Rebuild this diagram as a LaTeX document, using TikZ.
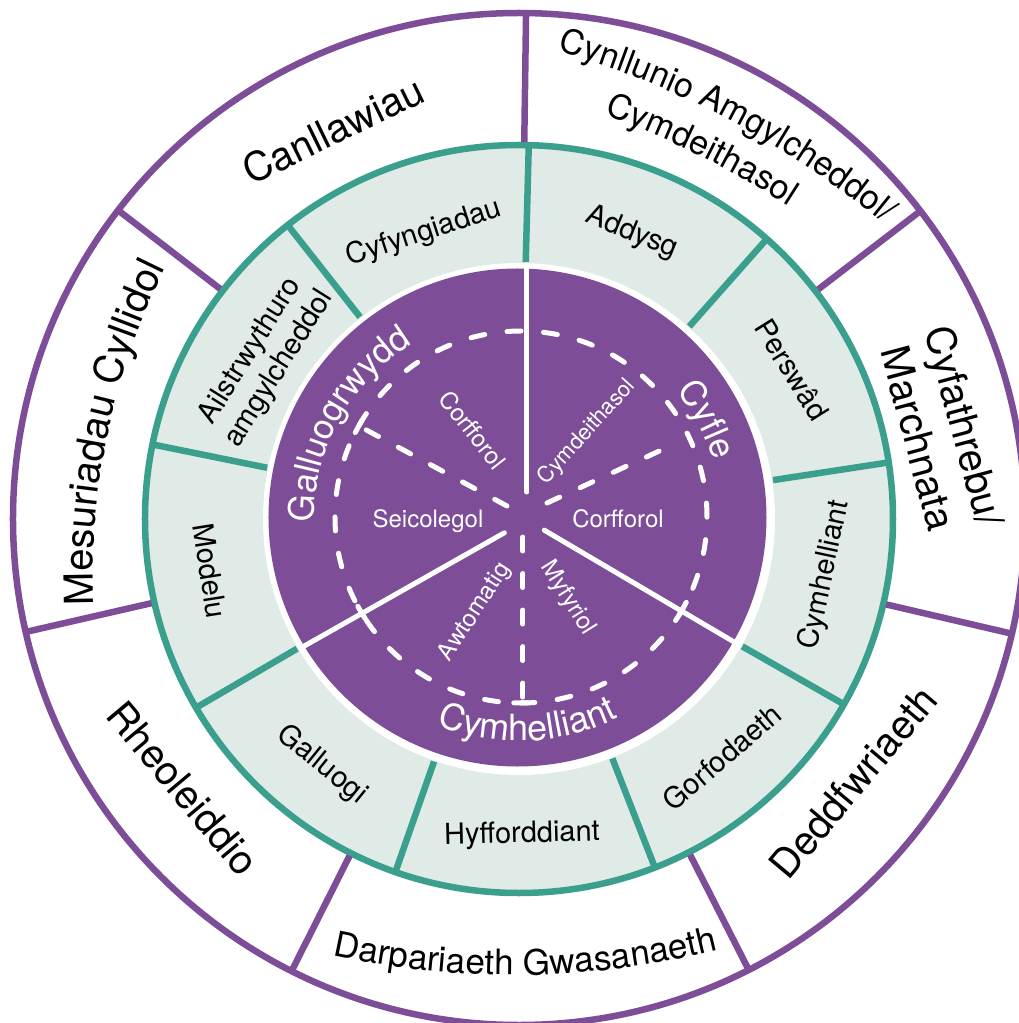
\documentclass[tikz,border=0pt]{standalone}
\usepackage{fontspec}
\setmainfont{TeX Gyre Heros}
\usetikzlibrary{decorations.text}
\definecolor{bcwpurple}{HTML}{7D4D98}
\definecolor{bcwteal}{HTML}{3AA08D}
\definecolor{bcwring}{HTML}{E0EAE6}
\tikzset{
  outerline/.style={bcwpurple, line width=6.5pt},
  tealline/.style={bcwteal, line width=6.5pt},
  whiteline/.style={white, line width=5pt, line cap=round},
  dashline/.style={white, line width=5pt, line cap=round, dash pattern=on 14pt off 22.52pt},
  tickline/.style={white, line width=5pt, line cap=round},
  outertext/.style={font=\fontsize{40}{48}\selectfont, align=center, inner sep=0pt, text=black},
  midtext/.style={font=\fontsize{29}{34}\selectfont, align=center, inner sep=0pt, text=black},
  innertext/.style={font=\fontsize{24}{28}\selectfont, text=white, inner sep=0pt},
}
\begin{document}
\begin{tikzpicture}[x=1pt,y=1pt]
\useasboundingbox (-519,-504) rectangle (500,519);
\clip (-519,-504) rectangle (500,519);
\fill[white] (-519,-504) rectangle (500,519);

% rings
\draw[outerline, fill=white] (0,0) circle[radius=506];
\fill[bcwring] (0,0) circle[radius=374];
\fill[white] (0,0) circle[radius=256];
\fill[bcwpurple] (-1.5,1.5) circle[radius=249];

% middle ring dividers
\foreach \a in {88.5,48.5,8.7,330.3,291.3,250.7,210.3,168.5,128.2}
  \draw[tealline] (\a:257) -- (\a:375);
\draw[tealline] (0,0) circle[radius=374];
% outer ring dividers
\foreach \a in {89.2,142.4,192.9,243.3,297,346.9,37.5}
  \draw[outerline] (\a:377) -- (\a:508);

% inner solid dividers
\draw[whiteline] ([shift={(8,-1)}]90:28) -- ([shift={(8,-1)}]90:255);
\draw[whiteline] ([shift={(8,-1)}]209.5:26) -- ([shift={(8,-1)}]209.5:260);
\draw[whiteline] ([shift={(8,-1)}]329.5:20) -- ([shift={(8,-1)}]329.5:247);

% inner dashed structure
\draw[dashline] (2,2) circle[radius=186];
\draw[dashline] (-12,13) -- (-160,93);
\draw[dashline] (4,-18) -- (4,-184);
\draw[dashline] (28,16) -- (149,72);
\foreach \a in {150.8,270,210.9,330.5}
  \draw[tickline] ([shift={(2,2)}]\a-2.2:186) arc[start angle=\a-2.2, end angle=\a+2.2, radius=186];

% inner curved titles
\path[decorate, decoration={text along path, text align=center, text color=white,
  text={|\fontsize{35}{35}\selectfont|Galluogrwydd}}]
  (188:205) arc[start angle=188, end angle=114, radius=205];
\path[decorate, decoration={text along path, text align=center, text color=white,
  text={|\fontsize{35}{35}\selectfont|Cyfle}}]
  (52:203) arc[start angle=52, end angle=4, radius=203];
\path[decorate, decoration={text along path, text align=center, text color=white,
  text={|\fontsize{36}{36}\selectfont|Cymhelliant}}]
  (240:222) arc[start angle=240, end angle=305, radius=222];

% inner labels
\node[innertext, rotate=-52] (corfA) at (-46,89) {Corfforol};
\node[innertext, rotate=48, font=\fontsize{22}{26}\selectfont] (cymdA) at (68,87) {Cymdeithasol};
\node[innertext, anchor=base] (seic) at (-91,-8) {Seicolegol};
\node[innertext, anchor=base] (corfB) at (99,-8) {Corfforol};
\node[innertext, rotate=57] (awto) at (-44,-93) {Awtomatig};
\node[innertext, rotate=-58] (myfy) at (49,-79) {Myfyriol};

% middle ring labels
\node[midtext, rotate=18] (cyfyng) at (-95,286) {Cyfyngiadau};
\node[midtext, rotate=-22] (addysg) at (113,286) {Addysg};
\node[midtext, rotate=-58] (persw) at (273,149) {Perswâd};
\node[midtext, rotate=78] (cymhM) at (306,-56) {Cymhelliant};
\node[midtext, rotate=40.5] (gorf) at (203,-238) {Gorfodaeth};
\node[midtext, rotate=1.5] (hyff) at (3,-316) {Hyfforddiant};
\node[midtext, rotate=-39] (galluogi) at (-197,-246) {Galluogi};
\node[midtext, rotate=-81] (modelu) at (-309,-52) {Modelu};
\node[midtext, rotate=58] (ailstr) at (-254,159) {Ailstrwythuro\\amgylcheddol};

% outer ring labels
\node[outertext, rotate=26] (canll) at (-186,389) {Canllawiau};
\node[outertext, rotate=-75] (cyfath) at (423,87) {Cyfathrebu/\\Marchnata};
\node[outertext, rotate=50] (deddf) at (334,-263) {Deddfwriaeth};
\node[outertext, rotate=-50] (rheol) at (-336,-269) {Rheoleiddio};

\path[decorate, decoration={text along path, text align=center,
  text={|\fontsize{40}{40}\selectfont|Mesuriadau Cyllidol}}]
  ([shift={(168:-280)}]188:700) arc[start angle=188, end angle=148, radius=700];
\path[decorate, decoration={text along path, text align=center,
  text={|\fontsize{34}{34}\selectfont|Cynllunio Amgylcheddol/}}]
  ([shift={(62.1:-449)}]80.1:900) arc[start angle=80.1, end angle=44.1, radius=900];
\path[decorate, decoration={text along path, text align=center,
  text={|\fontsize{34}{34}\selectfont|Cymdeithasol}}]
  ([shift={(63.6:-494)}]78.6:900) arc[start angle=78.6, end angle=48.6, radius=900];
\path[decorate, decoration={text along path, text align=center,
  text={|\fontsize{35}{35}\selectfont|Darpariaeth Gwasanaeth}}]
  ([shift={(270.8:-384)}]252.8:840) arc[start angle=252.8, end angle=288.8, radius=840];
\end{tikzpicture}
\end{document}
